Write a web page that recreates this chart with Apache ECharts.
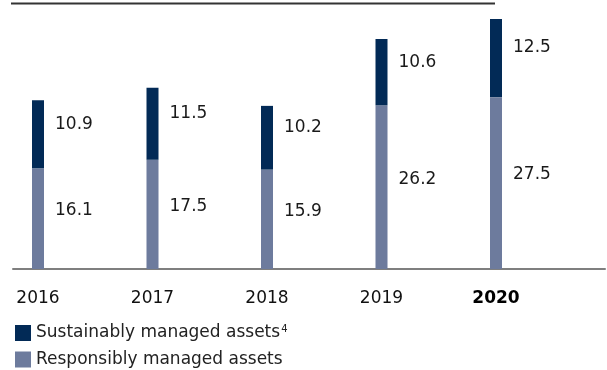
<!DOCTYPE html>
<html>
<head>
<meta charset="utf-8">
<script src="https://cdn.jsdelivr.net/npm/echarts@6/dist/echarts.min.js"></script>
<style>
html,body{margin:0;padding:0;background:#fff;}
#c{width:607px;height:370px;}
</style>
</head>
<body>
<div id="c"></div>
<script>
var years = ['2016', '2017', '2018', '2019', '2020'];
var responsibly = [16.1, 17.5, 15.9, 26.2, 27.5];
var sustainably = [10.9, 11.5, 10.2, 10.6, 12.5];
var nameSustainably = 'Sustainably managed assets';
var nameResponsibly = 'Responsibly managed assets';

var FONT = 'DejaVu Sans';
var DARK = '#022a56';
var LIGHT = '#6d7b9d';

var legendText = {
  color: '#222',
  fontSize: 17,
  fontFamily: FONT,
  rich: {
    a: {fontSize: 17, fontFamily: FONT, color: '#222'},
    s: {fontSize: 10, fontFamily: FONT, color: '#222', verticalAlign: 'top', padding: [0, 0, 8, 1]}
  }
};
function legendFmt(n) {
  return n === nameSustainably ? '{a|' + n + '}{s|4}' : '{a|' + n + '}';
}

var chart = echarts.init(document.getElementById('c'), null, {renderer: 'canvas'});
chart.setOption({
  animation: false,
  textStyle: {fontFamily: FONT},
  graphic: [{
    type: 'line',
    shape: {x1: 11, y1: 3.5, x2: 495, y2: 3.5},
    style: {stroke: '#333', lineWidth: 2}
  }],
  legend: [
    {
      left: 15, top: 324, padding: 0,
      itemWidth: 16, itemHeight: 16, icon: 'rect',
      data: [nameSustainably],
      formatter: legendFmt,
      textStyle: legendText
    },
    {
      left: 15, top: 351, padding: 0,
      itemWidth: 16, itemHeight: 16, icon: 'rect',
      data: [nameResponsibly],
      formatter: legendFmt,
      textStyle: legendText
    }
  ],
  grid: [
    {left: 38, right: 111, top: 19, bottom: 101, containLabel: false},
    {left: 13, right: 2, top: 19, bottom: 101, containLabel: false}
  ],
  xAxis: [
    {
      type: 'category',
      gridIndex: 0,
      data: years,
      boundaryGap: false,
      axisLine: {show: false},
      axisTick: {show: false},
      axisLabel: {
        margin: 21,
        fontSize: 17,
        color: '#111',
        fontFamily: FONT,
        formatter: function (v) {
          return v === '2020' ? '{b|' + v + '}' : '{n|' + v + '}';
        },
        rich: {
          n: {fontSize: 17, fontFamily: FONT, color: '#111'},
          b: {fontSize: 17, fontFamily: FONT, color: '#000', fontWeight: 'bold'}
        }
      }
    },
    {
      type: 'category',
      gridIndex: 1,
      data: [''],
      axisLine: {show: true, lineStyle: {color: '#7f7f7f', width: 2}},
      axisTick: {show: false},
      axisLabel: {show: false}
    }
  ],
  yAxis: [
    {type: 'value', gridIndex: 0, min: 0, max: 40, show: false, splitLine: {show: false}},
    {type: 'value', gridIndex: 1, min: 0, max: 40, show: false, splitLine: {show: false}}
  ],
  series: [
    {
      name: nameResponsibly,
      type: 'bar',
      stack: 'total',
      xAxisIndex: 0,
      yAxisIndex: 0,
      barWidth: 12,
      data: responsibly,
      itemStyle: {color: LIGHT},
      label: {
        show: true,
        position: 'right',
        distance: 11,
        offset: [0, -8],
        fontSize: 17,
        fontFamily: FONT,
        color: '#1a1a1a',
        formatter: function (p) { return p.value.toFixed(1); }
      }
    },
    {
      name: nameSustainably,
      type: 'bar',
      stack: 'total',
      xAxisIndex: 0,
      yAxisIndex: 0,
      barWidth: 12,
      data: sustainably,
      itemStyle: {color: DARK},
      label: {
        show: true,
        position: 'right',
        distance: 11,
        offset: [0, -10],
        fontSize: 17,
        fontFamily: FONT,
        color: '#1a1a1a',
        formatter: function (p) { return p.value.toFixed(1); }
      }
    }
  ]
});
</script>
</body>
</html>
